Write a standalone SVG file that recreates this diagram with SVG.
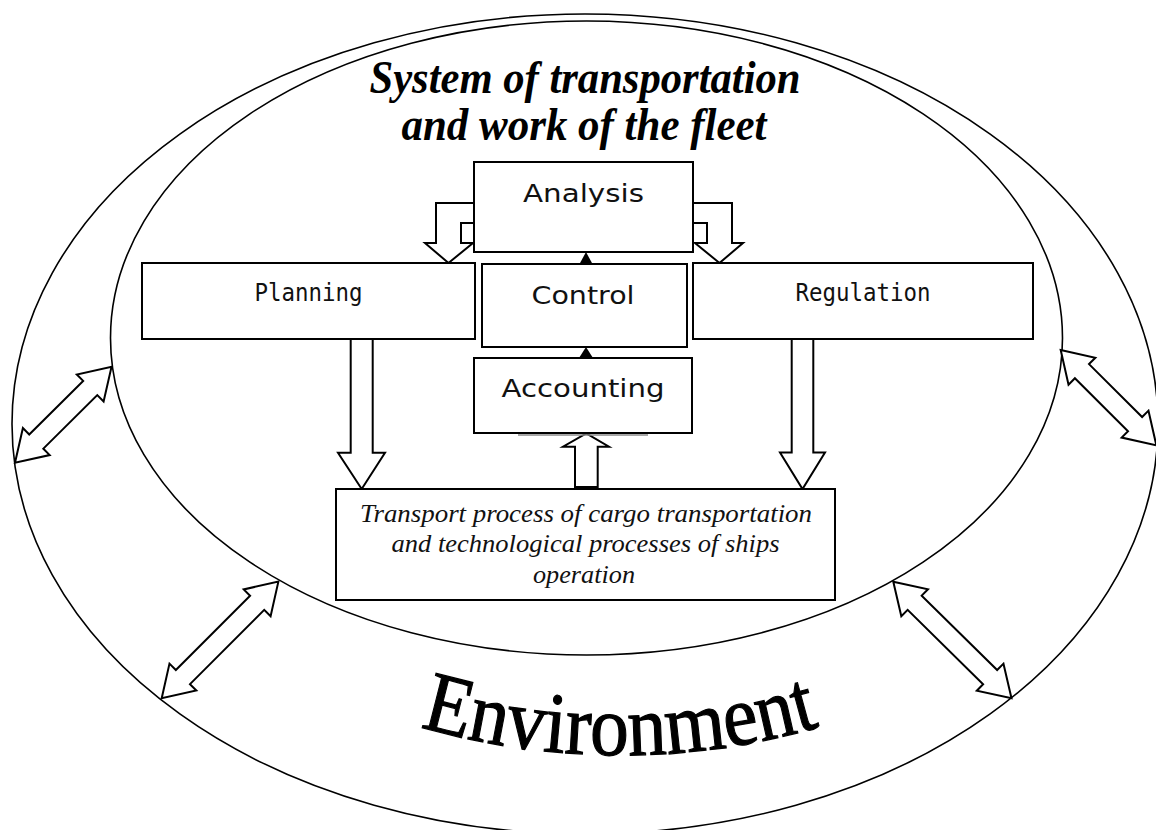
<svg xmlns="http://www.w3.org/2000/svg" width="1156" height="830" viewBox="0 0 1156 830">
<style>
.ell{fill:none;stroke:#000;stroke-width:1.6}
.box{fill:#fff;stroke:#000;stroke-width:2}
.arr{fill:#fff;stroke:#000;stroke-width:2;stroke-linejoin:miter}
.tri{fill:#000;stroke:none}
.sans{font-family:"DejaVu Sans","Liberation Sans",sans-serif;font-size:25px;fill:#111;text-anchor:middle}
.mono{font-family:"DejaVu Sans Mono","Liberation Mono",monospace;font-size:24px;fill:#111;text-anchor:middle}
.ital{font-family:"Liberation Serif","Times New Roman",serif;font-style:italic;font-size:26px;fill:#111;text-anchor:middle}
.title{font-family:"Liberation Serif","Times New Roman",serif;font-style:italic;font-weight:bold;font-size:46px;fill:#000;text-anchor:middle}
.env{font-family:"Liberation Serif","Times New Roman",serif;font-size:86px;fill:#000;stroke:#000;stroke-width:1.2;text-anchor:middle}
</style>
<defs>
<path id="envArc" d="M 380 714 A 720 720 0 0 0 860 714"/>
</defs>
<rect width="1156" height="830" fill="#fff"/>

<g id="environment">
<ellipse class="ell" cx="585" cy="424" rx="573" ry="410"/>
<text class="env"><textPath href="#envArc" startOffset="50%" textLength="405" lengthAdjust="spacingAndGlyphs">Environment</textPath></text>
</g>

<g id="system">
<ellipse class="ell" cx="586.5" cy="338" rx="476" ry="317"/>
<text class="title" x="585" y="93" textLength="431" lengthAdjust="spacingAndGlyphs">System of transportation</text>
<text class="title" x="584" y="140" textLength="365" lengthAdjust="spacingAndGlyphs">and work of the fleet</text>
</g>

<g id="connectors">
<polygon class="arr" points="474,203 436,203 436,243 425,243 448.5,263 473,243 461,243 461,223 474,223"/>
<polygon class="arr" points="693,203 732,203 732,243 743,243 719.5,263 695,243 707,243 707,223 693,223"/>
<polygon class="arr" points="350.7,339 350.7,452.7 338,452.7 361.7,489 385,452.7 372.7,452.7 372.7,339"/>
<polygon class="arr" points="791.7,339 791.7,452.5 780,452.5 802.5,489 825,452.5 813.3,452.5 813.3,339"/>
<polygon class="arr" points="575,487 575,446.7 563,446.7 586.3,433.5 609,446.7 597.7,446.7 597.7,487"/>
<polygon class="tri" points="586,252 579.5,264 592.5,264"/>
<polygon class="tri" points="586,347 579,358 593,358"/>
<line x1="518" y1="435" x2="648" y2="435" stroke="#888" stroke-width="1.5"/>
<polygon class="arr" transform="translate(15,462.7) rotate(-44.8)" points="0,0 30,-19 30,-10 106,-10 106,-19 136,0 106,19 106,10 30,10 30,19"/>
<polygon class="arr" transform="translate(1060.7,350) rotate(44.9)" points="0,0 30,-19 30,-10 105,-10 105,-19 135,0 105,19 105,10 30,10 30,19"/>
<polygon class="arr" transform="translate(161.7,698.3) rotate(-45)" points="0,0 30,-19 30,-10 135,-10 135,-19 165,0 135,19 135,10 30,10 30,19"/>
<polygon class="arr" transform="translate(893.3,581.7) rotate(44.6)" points="0,0 30,-19 30,-10 136,-10 136,-19 166,0 136,19 136,10 30,10 30,19"/>
</g>

<g id="analysis">
<rect class="box" x="474" y="162" width="219" height="90"/>
<text class="sans" x="583.5" y="202" textLength="121" lengthAdjust="spacingAndGlyphs">Analysis</text>
</g>

<g id="planning">
<rect class="box" x="142" y="263" width="333" height="76"/>
<text class="mono" x="308.5" y="301" textLength="108" lengthAdjust="spacingAndGlyphs">Planning</text>
</g>

<g id="control">
<rect class="box" x="482" y="264" width="205" height="83"/>
<text class="sans" x="583" y="304" textLength="103" lengthAdjust="spacingAndGlyphs">Control</text>
</g>

<g id="regulation">
<rect class="box" x="693" y="263" width="340" height="76"/>
<text class="mono" x="863" y="301" textLength="135" lengthAdjust="spacingAndGlyphs">Regulation</text>
</g>

<g id="accounting">
<rect class="box" x="474" y="358" width="218" height="75"/>
<text class="sans" x="583" y="397" textLength="163" lengthAdjust="spacingAndGlyphs">Accounting</text>
</g>

<g id="transport">
<rect class="box" x="336" y="489" width="499" height="111"/>
<text class="ital" x="586" y="522" textLength="452" lengthAdjust="spacingAndGlyphs">Transport process of cargo transportation</text>
<text class="ital" x="585.5" y="552" textLength="388" lengthAdjust="spacingAndGlyphs">and technological processes of ships</text>
<text class="ital" x="584" y="583" textLength="102" lengthAdjust="spacingAndGlyphs">operation</text>
</g>
</svg>
